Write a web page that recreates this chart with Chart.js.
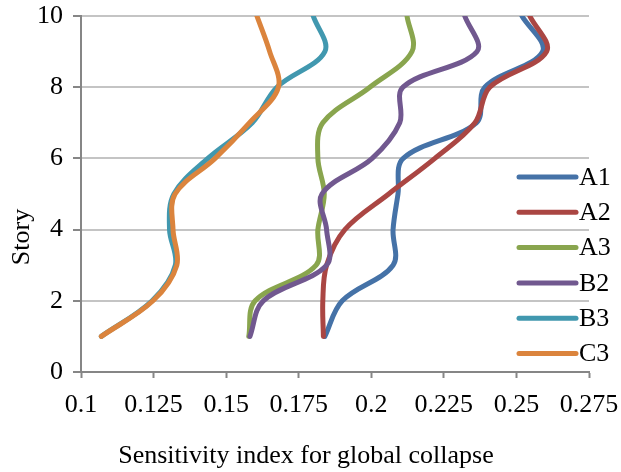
<!DOCTYPE html>
<html>
<head>
<meta charset="utf-8">
<script src="https://cdn.jsdelivr.net/npm/chart.js@4.4.1/dist/chart.umd.min.js"></script>
<style>
  html, body { margin: 0; padding: 0; background: #ffffff; }
  #wrap { width: 621px; height: 472px; }
</style>
</head>
<body>
<div id="wrap"><canvas id="chart" width="621" height="472"></canvas></div>
<script>
// Story levels (vertical axis) and sensitivity index per structure (horizontal axis)
const stories = [1, 2, 3, 4, 5, 6, 7, 8, 9, 10];
const seriesNames = ['A1', 'A2', 'A3', 'B2', 'B3', 'C3'];
const A1 = [0.1840, 0.1900, 0.2075, 0.2075, 0.2092, 0.2110, 0.2362, 0.2391, 0.2590, 0.2519];
const A2 = [0.1835, 0.1833, 0.1846, 0.1909, 0.2060, 0.2219, 0.2357, 0.2408, 0.2604, 0.2546];
const A3 = [0.1578, 0.1600, 0.1810, 0.1816, 0.1838, 0.1816, 0.1833, 0.1995, 0.2140, 0.2123];
const B2 = [0.1582, 0.1628, 0.1846, 0.1846, 0.1830, 0.2003, 0.2098, 0.2109, 0.2364, 0.2322];
const B3 = [0.1070, 0.1245, 0.1325, 0.1305, 0.1320, 0.1437, 0.1590, 0.1675, 0.1840, 0.1800];
const C3 = [0.1070, 0.1248, 0.1330, 0.1317, 0.1324, 0.1462, 0.1580, 0.1680, 0.1650, 0.1606];
const xTickValues = [0.1, 0.125, 0.15, 0.175, 0.2, 0.225, 0.25, 0.275];
const yTickValues = [0, 2, 4, 6, 8, 10];
const xTitle = 'Sensitivity index for global collapse';
const yTitle = 'Story';

const seriesValues = [A1, A2, A3, B2, B3, C3];
const seriesColors = ['#4572A7', '#AA4643', '#89A54E', '#71588F', '#4198AF', '#DB843D'];

const FONT_FAMILY = '"Liberation Serif", "Times New Roman", serif';
const FONT_SIZE = 26;

const datasets = seriesNames.map((name, i) => ({
  label: name,
  data: stories.map((s, k) => ({ x: seriesValues[i][k], y: s })),
  borderColor: seriesColors[i],
  backgroundColor: seriesColors[i],
  borderWidth: 5,
  borderCapStyle: 'round',
  borderJoinStyle: 'round',
  pointRadius: 0,
  pointHoverRadius: 0,
  showLine: true,
  tension: 0.35,
  fill: false,
  clip: 0,
  order: seriesNames.length - i
}));

// Axis titles and the legend on the right side of the plot
const annotations = {
  id: 'annotations',
  afterDraw(chart) {
    const { ctx, chartArea } = chart;
    ctx.save();
    ctx.font = FONT_SIZE + 'px ' + FONT_FAMILY;
    ctx.fillStyle = '#000000';
    ctx.textAlign = 'center';
    ctx.textBaseline = 'middle';
    ctx.fillText(xTitle, chartArea.left + 225, chartArea.bottom + 84);

    ctx.save();
    ctx.translate(22, chartArea.top + 221);
    ctx.rotate(-Math.PI / 2);
    ctx.fillText(yTitle, 0, 0);
    ctx.restore();

    // legend entries
    const lx0 = chartArea.right - 70;
    const lx1 = chartArea.right - 13;
    const ly0 = chartArea.top + 161;
    const step = 35.3;
    ctx.textAlign = 'left';
    seriesNames.forEach((name, i) => {
      const y = ly0 + i * step;
      ctx.beginPath();
      ctx.strokeStyle = seriesColors[i];
      ctx.lineWidth = 5;
      ctx.lineCap = 'round';
      ctx.moveTo(lx0, y);
      ctx.lineTo(lx1, y);
      ctx.stroke();
      ctx.fillText(name, lx1 + 3, y + 1);
    });
    ctx.restore();
  }
};

new Chart(document.getElementById('chart'), {
  type: 'scatter',
  data: { datasets },
  options: {
    responsive: false,
    animation: false,
    events: [],
    layout: { padding: { top: 16, right: 32, left: 0, bottom: 0 } },
    plugins: {
      legend: { display: false },
      tooltip: { enabled: false },
      title: { display: false }
    },
    scales: {
      x: {
        type: 'linear',
        min: xTickValues[0],
        max: xTickValues[xTickValues.length - 1],
        afterBuildTicks(scale) {
          scale.ticks = xTickValues.map(v => ({ value: v }));
        },
        afterFit(scale) {
          scale.height = 100;
          scale.paddingLeft = 0;
          scale.paddingRight = 0;
        },
        grid: {
          drawOnChartArea: false,
          drawTicks: true,
          tickLength: 6,
          tickColor: '#868686',
          tickWidth: 2
        },
        border: { display: true, color: '#868686', width: 2 },
        ticks: {
          autoSkip: false,
          maxRotation: 0,
          padding: 12,
          color: '#000000',
          font: { family: FONT_FAMILY, size: FONT_SIZE },
          callback: (v) => String(+Number(v).toFixed(3))
        }
      },
      y: {
        type: 'linear',
        min: yTickValues[0],
        max: yTickValues[yTickValues.length - 1],
        afterBuildTicks(scale) {
          scale.ticks = yTickValues.map(v => ({ value: v }));
        },
        afterFit(scale) {
          scale.width = 81;
          scale.paddingTop = 0;
          scale.paddingBottom = 0;
        },
        grid: {
          drawOnChartArea: true,
          color: '#C4C4C4',
          lineWidth: 2,
          drawTicks: true,
          tickLength: 8,
          tickColor: '#868686',
          tickWidth: 2
        },
        border: { display: true, color: '#868686', width: 2 },
        ticks: {
          padding: 10,
          color: '#000000',
          font: { family: FONT_FAMILY, size: FONT_SIZE }
        }
      }
    }
  },
  plugins: [annotations]
});
</script>
</body>
</html>
